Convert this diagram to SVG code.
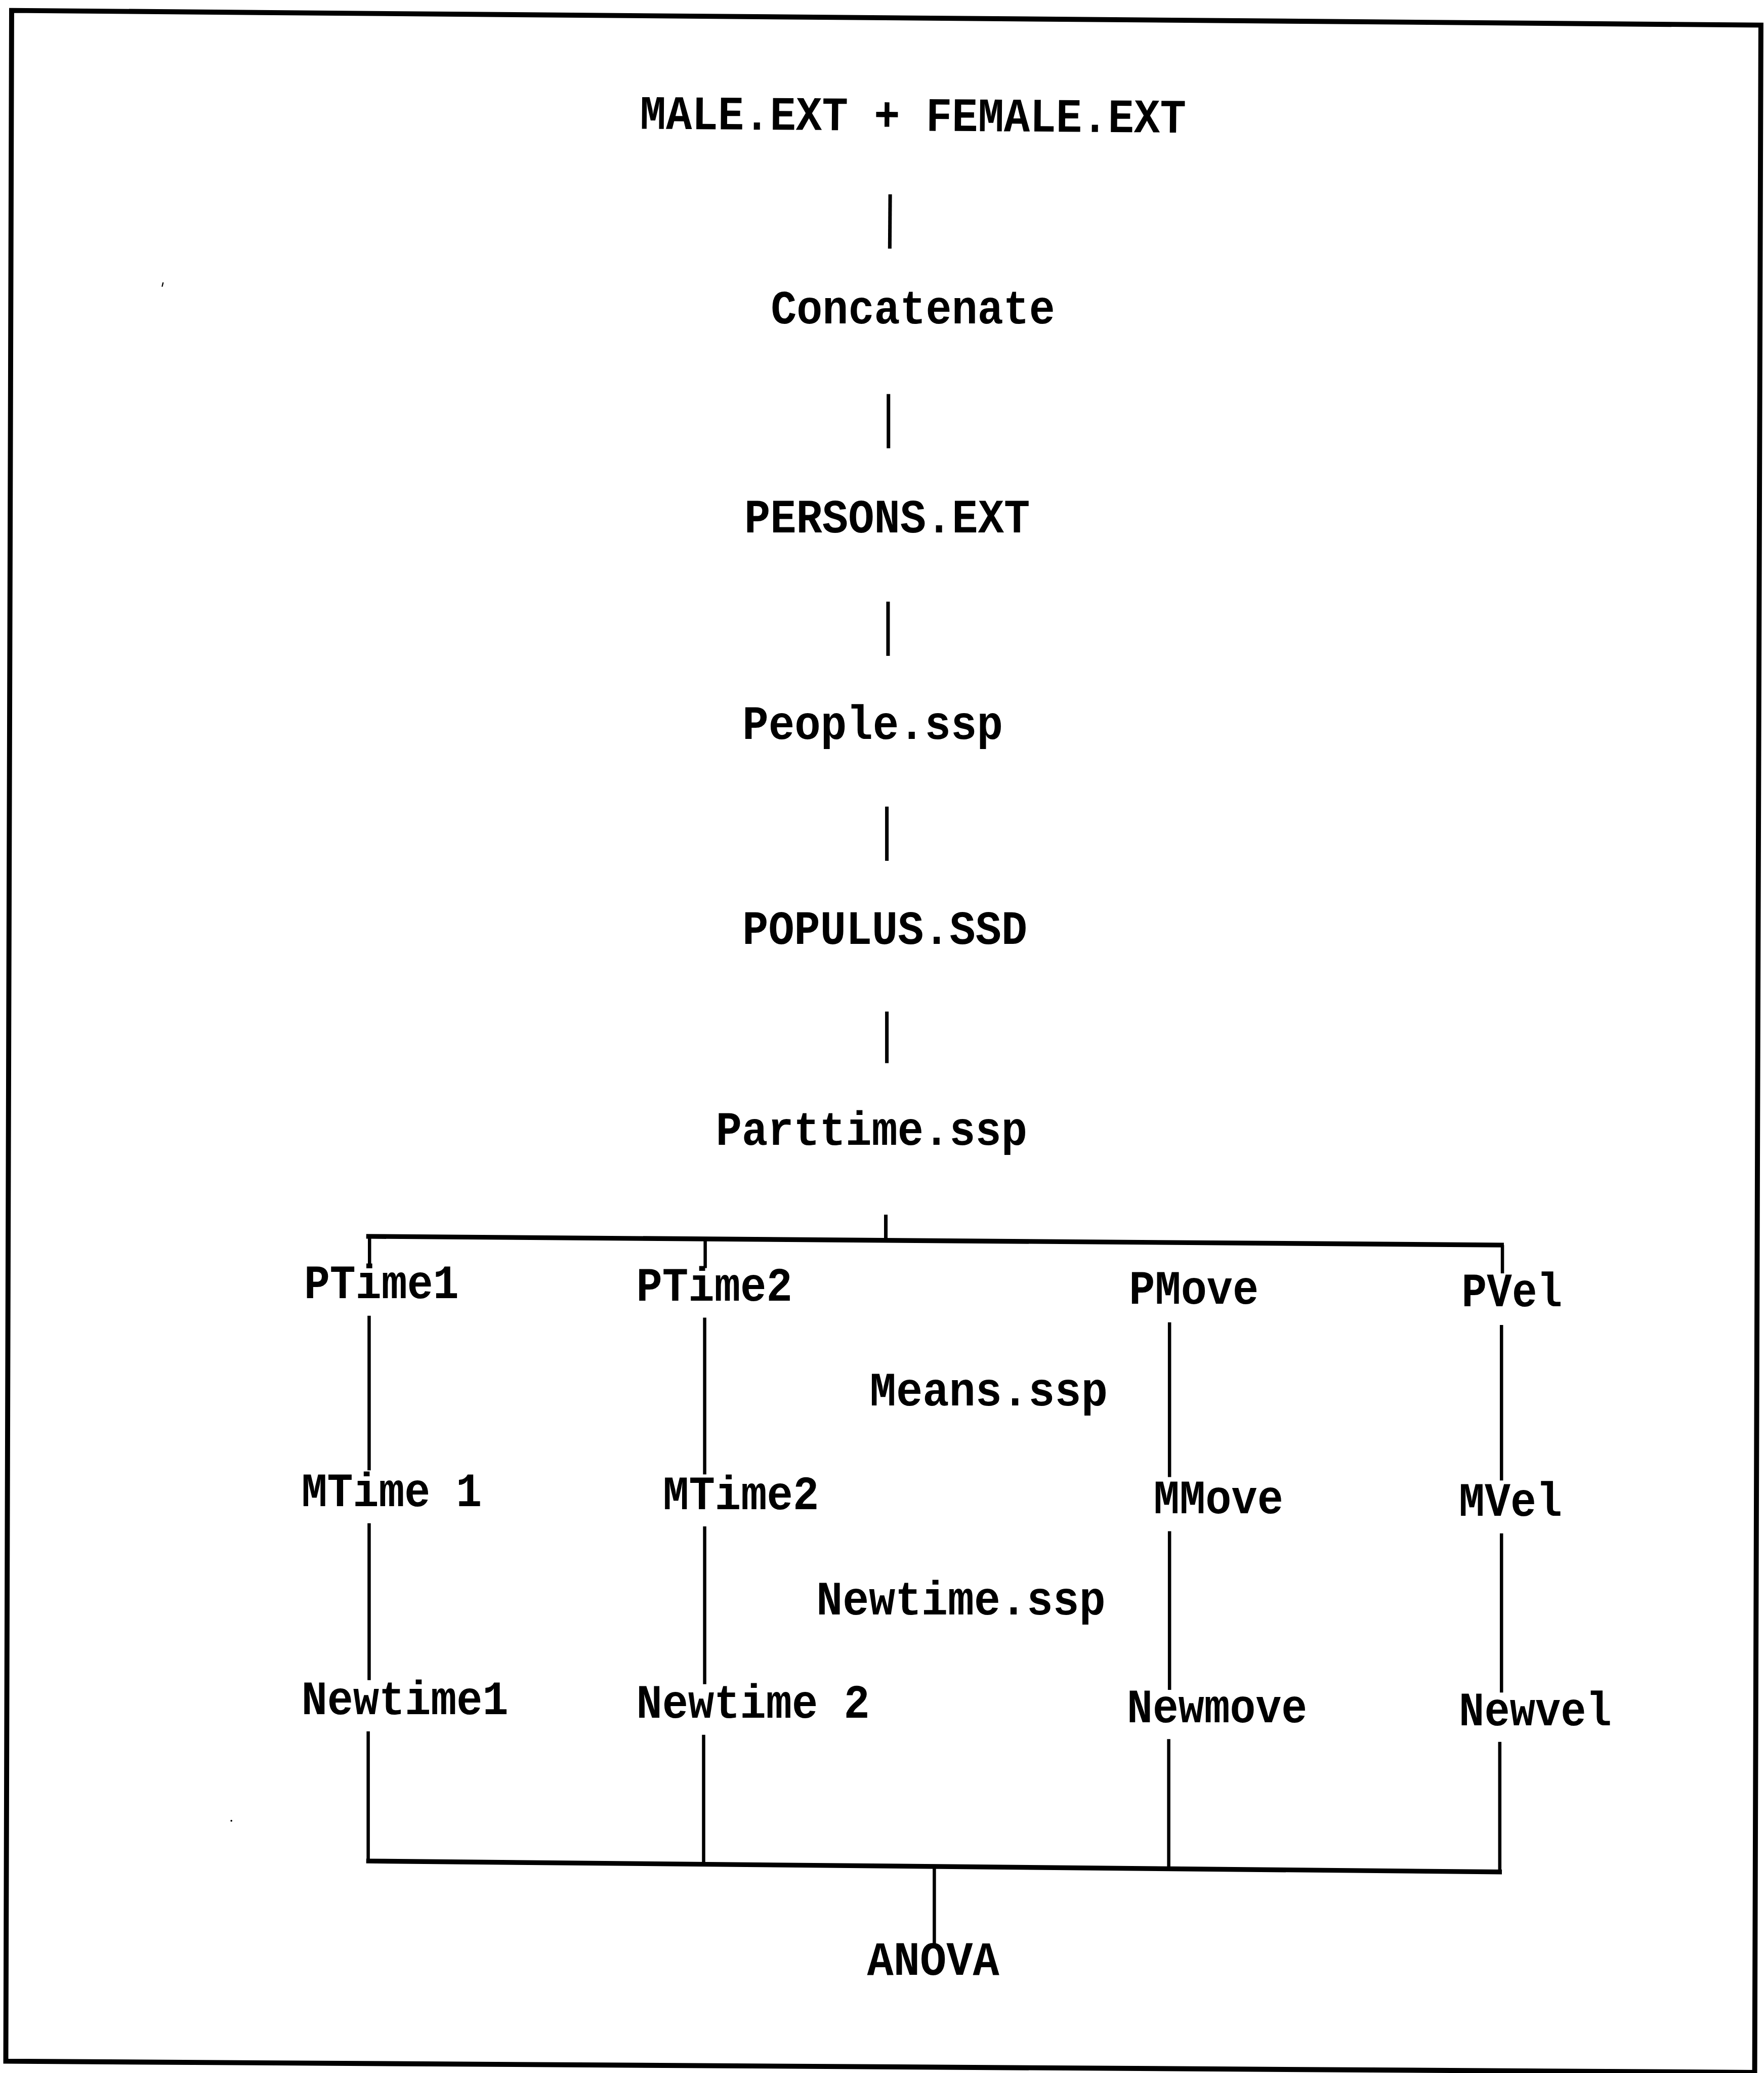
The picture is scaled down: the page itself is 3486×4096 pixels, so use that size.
<svg xmlns="http://www.w3.org/2000/svg" width="3486" height="4096" viewBox="0 0 3486 4096">
<style>
.lbl{font-family:"Liberation Mono","DejaVu Sans Mono",monospace;font-weight:bold;font-size:36.4px;fill:#000}
.ln{stroke:#000;fill:none;stroke-linecap:butt}
.spine{stroke-width:2.7}
.col{stroke-width:2.5}
.bar{stroke-width:3.6}
.frame{stroke:#000;stroke-width:3.8;fill:none;stroke-linejoin:miter}
</style>
<rect x="0" y="0" width="3486" height="4096" fill="#fff"/>
<g transform="scale(2.6127)">
<g id="frame">
<polygon class="frame" points="8.8,7.9 1331.9,19.0 1327.2,1567.3 4.4,1558.8"/>
<path d="M123.4,213.6 L122.6,216.8" stroke="#000" stroke-width="0.9"/>
<circle cx="175" cy="1377" r="0.7" fill="#000"/>
</g>
<g id="connectors">
<line class="ln spine" x1="673.3" y1="147" x2="673" y2="188"/>
<line class="ln spine" x1="672" y1="298" x2="672" y2="339"/>
<line class="ln spine" x1="671.7" y1="455" x2="671.7" y2="496"/>
<line class="ln spine" x1="670.8" y1="610" x2="670.8" y2="651"/>
<line class="ln spine" x1="670.8" y1="765" x2="670.8" y2="804"/>
<line class="ln spine" x1="670" y1="918.6" x2="670" y2="939"/>
<line class="ln bar" x1="277" y1="935" x2="1137.5" y2="941.6"/>
<line class="ln col" x1="279.5" y1="935" x2="279.5" y2="957"/>
<line class="ln col" x1="533.4" y1="937" x2="533.4" y2="959"/>
<line class="ln col" x1="1136.4" y1="941.6" x2="1136.4" y2="963"/>
<line class="ln col" x1="279.2" y1="995" x2="279.2" y2="1112"/>
<line class="ln col" x1="533" y1="996.5" x2="533" y2="1115"/>
<line class="ln col" x1="884.6" y1="1000" x2="884.6" y2="1117"/>
<line class="ln col" x1="1135.7" y1="1002" x2="1135.7" y2="1119.6"/>
<line class="ln col" x1="279.2" y1="1152" x2="279.2" y2="1270.6"/>
<line class="ln col" x1="533" y1="1154.4" x2="533" y2="1273.7"/>
<line class="ln col" x1="884.6" y1="1158" x2="884.6" y2="1278"/>
<line class="ln col" x1="1135.7" y1="1159.6" x2="1135.7" y2="1280"/>
<line class="ln col" x1="278.5" y1="1309.4" x2="278.5" y2="1407.4"/>
<line class="ln col" x1="532.2" y1="1312" x2="532.2" y2="1409.9"/>
<line class="ln col" x1="884" y1="1315.2" x2="884" y2="1412.8"/>
<line class="ln col" x1="1134.4" y1="1317.3" x2="1134.4" y2="1415.7"/>
<line class="ln bar" x1="277" y1="1407.4" x2="1136" y2="1415.7"/>
<line class="ln col" x1="706.7" y1="1411.5" x2="706.7" y2="1470.6"/>
</g>
<g id="n-male-female"><text class="lbl" x="484" y="97.4" textLength="413" lengthAdjust="spacingAndGlyphs" transform="rotate(0.4 484 97.4)">MALE.EXT + FEMALE.EXT</text></g>
<g id="n-concatenate"><text class="lbl" x="583" y="244.7" textLength="215" lengthAdjust="spacingAndGlyphs">Concatenate</text></g>
<g id="n-persons"><text class="lbl" x="563" y="402.7" textLength="216" lengthAdjust="spacingAndGlyphs">PERSONS.EXT</text></g>
<g id="n-people"><text class="lbl" x="561.6" y="559" textLength="197" lengthAdjust="spacingAndGlyphs">People.ssp</text></g>
<g id="n-populus"><text class="lbl" x="561.6" y="714" textLength="215.4" lengthAdjust="spacingAndGlyphs">POPULUS.SSD</text></g>
<g id="n-parttime"><text class="lbl" x="541.5" y="865.7" textLength="235.5" lengthAdjust="spacingAndGlyphs">Parttime.ssp</text></g>
<g id="n-ptime1"><text class="lbl" x="230" y="981.6" textLength="117" lengthAdjust="spacingAndGlyphs">PTime1</text></g>
<g id="n-ptime2"><text class="lbl" x="481.3" y="983.5" textLength="118" lengthAdjust="spacingAndGlyphs">PTime2</text></g>
<g id="n-pmove"><text class="lbl" x="854" y="986" textLength="98" lengthAdjust="spacingAndGlyphs">PMove</text></g>
<g id="n-pvel"><text class="lbl" x="1105.6" y="987.7" textLength="76" lengthAdjust="spacingAndGlyphs">PVel</text></g>
<g id="n-means"><text class="lbl" x="657.8" y="1062.7" textLength="180" lengthAdjust="spacingAndGlyphs">Means.ssp</text></g>
<g id="n-mtime1"><text class="lbl" x="228" y="1139" textLength="136.4" lengthAdjust="spacingAndGlyphs">MTime 1</text></g>
<g id="n-mtime2"><text class="lbl" x="501.4" y="1141.5" textLength="118" lengthAdjust="spacingAndGlyphs">MTime2</text></g>
<g id="n-mmove"><text class="lbl" x="872.6" y="1144.4" textLength="98" lengthAdjust="spacingAndGlyphs">MMove</text></g>
<g id="n-mvel"><text class="lbl" x="1103.5" y="1146.4" textLength="78" lengthAdjust="spacingAndGlyphs">MVel</text></g>
<g id="n-newtime"><text class="lbl" x="617.5" y="1220.8" textLength="218.7" lengthAdjust="spacingAndGlyphs">Newtime.ssp</text></g>
<g id="n-newtime1"><text class="lbl" x="228" y="1296.5" textLength="156.5" lengthAdjust="spacingAndGlyphs">Newtime1</text></g>
<g id="n-newtime2"><text class="lbl" x="481.3" y="1299" textLength="176.5" lengthAdjust="spacingAndGlyphs">Newtime 2</text></g>
<g id="n-newmove"><text class="lbl" x="852.4" y="1302.3" textLength="136.3" lengthAdjust="spacingAndGlyphs">Newmove</text></g>
<g id="n-newvel"><text class="lbl" x="1103.5" y="1304.9" textLength="115.5" lengthAdjust="spacingAndGlyphs">Newvel</text></g>
<g id="n-anova"><text class="lbl" x="655.8" y="1493.5" textLength="100" lengthAdjust="spacingAndGlyphs">ANOVA</text></g>
</g>
</svg>
